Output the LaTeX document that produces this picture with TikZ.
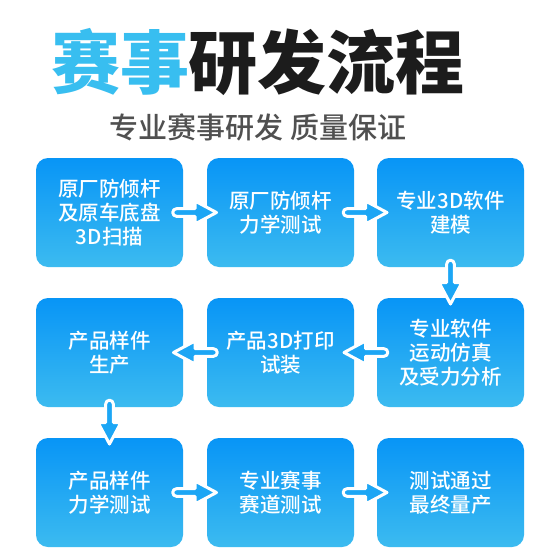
\documentclass[tikz,border=0pt]{standalone}
\usepackage{fontspec}
\newfontfamily\titlefont{Noto Sans CJK SC Black}
\newfontfamily\boxfont{Noto Sans CJK SC Medium}
\usetikzlibrary{calc}
\definecolor{boxtop}{RGB}{8,149,246}
\definecolor{boxbot}{RGB}{60,187,240}
\definecolor{arrowblue}{RGB}{28,166,245}
\definecolor{titleblue}{RGB}{56,190,240}
\definecolor{titleblack}{RGB}{28,28,28}
\definecolor{subgrey}{RGB}{80,80,80}
\tikzset{
  stepbox/.style={rectangle, rounded corners=12pt, minimum width=147pt, minimum height=109pt,
    top color=boxtop, bottom color=boxbot, draw=none, text=white,
    font=\boxfont\fontsize{20.5}{24}\selectfont, align=center, inner sep=0pt},
  flowarrow/.pic={
    \filldraw[x=1pt, y=1pt, draw=white, line width=3pt, line join=round, fill=arrowblue]
      (-18.5,3.8) -- (0,3.8) -- (0,11.5) -- (21.5,0) -- (0,-11.5) -- (0,-3.8) -- (-18.5,-3.8)
      arc[start angle=270, end angle=90, radius=3.8pt] -- cycle;
  }
}
\begin{document}
\begin{tikzpicture}[x=1pt, y=-1pt]
\useasboundingbox[fill=white] (0,0) rectangle (560,560);
\node[text=titleblack, font=\titlefont\fontsize{69}{69}\selectfont, inner sep=0pt] (title) at (258,62) {\textcolor{titleblue}{赛事}研发流程};
\node[text=subgrey, font=\boxfont\fontsize{29}{29}\selectfont, inner sep=0pt] (subtitle) at (258,127) {专业赛事研发 质量保证};

\node[stepbox] (b1) at (109.5,212.5) {原厂防倾杆\\及原车底盘\\3D扫描};
\node[stepbox] (b2) at (280.5,212.5) {原厂防倾杆\\力学测试};
\node[stepbox] (b3) at (450.5,212.5) {专业3D软件\\建模};
\node[stepbox] (b4) at (450.5,352.5) {专业软件\\运动仿真\\及受力分析};
\node[stepbox] (b5) at (280.5,352.5) {产品3D打印\\试装};
\node[stepbox] (b6) at (109.5,352.5) {产品样件\\生产};
\node[stepbox] (b7) at (109.5,492.5) {产品样件\\力学测试};
\node[stepbox] (b8) at (280.5,492.5) {专业赛事\\赛道测试};
\node[stepbox] (b9) at (450.5,492.5) {测试通过\\最终量产};

\pic at ($(b1.east)!0.5!(b2.west)$) {flowarrow};
\pic at ($(b2.east)!0.5!(b3.west)$) {flowarrow};
\pic[rotate=-90] at ($(b3.south)!0.5!(b4.north)$) {flowarrow};
\pic[rotate=180] at ($(b4.west)!0.5!(b5.east)$) {flowarrow};
\pic[rotate=180] at ($(b5.west)!0.5!(b6.east)$) {flowarrow};
\pic[rotate=-90] at ($(b6.south)!0.5!(b7.north)$) {flowarrow};
\pic at ($(b7.east)!0.5!(b8.west)$) {flowarrow};
\pic at ($(b8.east)!0.5!(b9.west)$) {flowarrow};
\end{tikzpicture}
\end{document}
